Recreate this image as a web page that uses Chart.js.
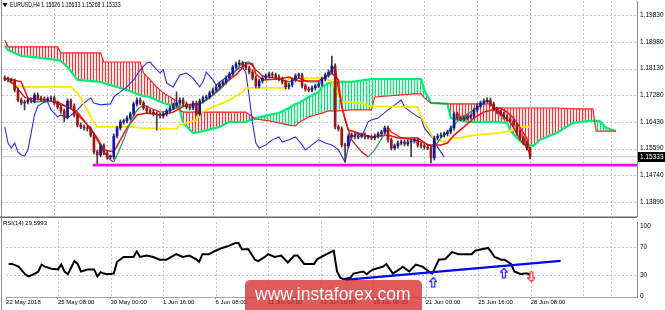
<!DOCTYPE html>
<html><head><meta charset="utf-8">
<script src="https://cdn.jsdelivr.net/npm/chart.js@4.4.1/dist/chart.umd.min.js"></script>
<style>
html,body{margin:0;padding:0;background:#fff;width:665px;height:310px;overflow:hidden}
canvas{position:absolute;left:0}
#c1{top:0}
#c2{top:216px}
</style></head><body>
<canvas id="c1" width="665" height="217"></canvas>
<canvas id="c2" width="665" height="94"></canvas>
<script>
// ---------- texts ----------
const symbolTitle = 'EURUSD,H4 1.15626 1.15633 1.15268 1.15333';
const rsiTitle = 'RSI(14) 29.5993';
const watermarkText = 'www.instaforex.com';
const lastPrice = 1.15333;
const supportLevel = 1.1507;
const supportStartIdx = 26.7;

// ---------- axes ----------
const priceTicks = [1.19830,1.18980,1.18130,1.17280,1.16430,1.15590,1.14740,1.13890];
const rsiTicks = [100,70,30,0];
const rsiLevels = [70,30];
const timeTickIdx = [-0.8,15,31,47,63,79,95,111,127,143,159];
const timeTickLabels = ['22 May 2018','25 May 08:00','30 May 00:00','1 Jun 16:00','6 Jun 08:00','11 Jun 00:00','13 Jun 16:00','18 Jun 08:00','21 Jun 00:00','25 Jun 16:00','28 Jun 08:00'];
const extraGridIdx = [175,183.5];

// ---------- candles (H4 bars, index 0..159) ----------
const candleOpen = [1.1783,1.1780,1.1777,1.1774,1.1745,1.1713,1.1704,1.1707,1.1713,1.1710,
1.1729,1.1720,1.1717,1.1713,1.1717,1.1720,1.1704,1.1691,1.1679,1.1660,
1.1710,1.1694,1.1666,1.1634,1.1628,1.1625,1.1622,1.1602,1.1549,1.1539,
1.1568,1.1545,1.1533,1.1533,1.1599,1.1625,1.1644,1.1647,1.1656,1.1669,
1.1701,1.1713,1.1704,1.1688,1.1679,1.1675,1.1669,1.1666,1.1663,1.1669,
1.1679,1.1688,1.1698,1.1704,1.1713,1.1701,1.1691,1.1688,1.1704,1.1669,
1.1710,1.1720,1.1723,1.1736,1.1745,1.1755,1.1764,1.1771,1.1783,1.1796,
1.1818,1.1828,1.1831,1.1824,1.1815,1.1802,1.1783,1.1758,1.1774,1.1783,
1.1790,1.1796,1.1793,1.1786,1.1780,1.1771,1.1755,1.1761,1.1777,1.1790,
1.1793,1.1758,1.1748,1.1745,1.1752,1.1758,1.1764,1.1780,1.1793,1.1802,
1.1821,1.1628,1.1622,1.1571,1.1568,1.1599,1.1602,1.1596,1.1599,1.1602,
1.1596,1.1596,1.1593,1.1599,1.1606,1.1612,1.1625,1.1587,1.1561,1.1568,
1.1577,1.1580,1.1574,1.1580,1.1583,1.1587,1.1571,1.1568,1.1564,1.1561,
1.1530,1.1593,1.1599,1.1602,1.1606,1.1612,1.1625,1.1669,1.1656,1.1653,
1.1656,1.1660,1.1663,1.1682,1.1694,1.1704,1.1710,1.1713,1.1701,1.1685,
1.1675,1.1669,1.1660,1.1653,1.1647,1.1634,1.1612,1.1593,1.1577,1.15626];
const candleHigh = [1.1790,1.1786,1.1783,1.1780,1.1752,1.1720,1.1713,1.1720,1.1720,1.1736,
1.1736,1.1726,1.1723,1.1723,1.1726,1.1726,1.1710,1.1698,1.1685,1.1717,
1.1717,1.1701,1.1672,1.1641,1.1634,1.1631,1.1628,1.1609,1.1555,1.1574,
1.1574,1.1552,1.1539,1.1606,1.1631,1.1650,1.1653,1.1663,1.1675,1.1707,
1.1720,1.1720,1.1710,1.1694,1.1685,1.1682,1.1675,1.1672,1.1675,1.1685,
1.1694,1.1704,1.1739,1.1720,1.1720,1.1707,1.1698,1.1710,1.1710,1.1717,
1.1726,1.1729,1.1742,1.1752,1.1761,1.1771,1.1777,1.1790,1.1802,1.1824,
1.1834,1.1840,1.1837,1.1831,1.1821,1.1809,1.1790,1.1780,1.1790,1.1796,
1.1802,1.1802,1.1799,1.1793,1.1786,1.1777,1.1767,1.1783,1.1796,1.1799,
1.1799,1.1764,1.1755,1.1758,1.1764,1.1771,1.1786,1.1799,1.1809,1.1853,
1.1828,1.1634,1.1628,1.1577,1.1606,1.1609,1.1609,1.1606,1.1609,1.1609,
1.1602,1.1602,1.1606,1.1612,1.1618,1.1631,1.1631,1.1593,1.1574,1.1583,
1.1587,1.1587,1.1587,1.1590,1.1593,1.1593,1.1577,1.1574,1.1571,1.1568,
1.1599,1.1606,1.1609,1.1612,1.1618,1.1631,1.1675,1.1675,1.1663,1.1663,
1.1666,1.1669,1.1688,1.1701,1.1710,1.1717,1.1720,1.1720,1.1707,1.1691,
1.1682,1.1675,1.1666,1.1660,1.1653,1.1641,1.1618,1.1599,1.1583,1.15633];
const candleLow = [1.1774,1.1771,1.1767,1.1739,1.1707,1.1698,1.1682,1.1701,1.1704,1.1704,
1.1713,1.1710,1.1707,1.1707,1.1710,1.1698,1.1685,1.1672,1.1644,1.1653,
1.1688,1.1660,1.1628,1.1622,1.1618,1.1615,1.1596,1.1542,1.1507,1.1533,
1.1539,1.1526,1.1526,1.1526,1.1593,1.1618,1.1637,1.1641,1.1650,1.1663,
1.1694,1.1698,1.1682,1.1672,1.1669,1.1663,1.1618,1.1656,1.1656,1.1663,
1.1672,1.1682,1.1691,1.1698,1.1694,1.1685,1.1682,1.1682,1.1663,1.1663,
1.1704,1.1713,1.1717,1.1729,1.1739,1.1748,1.1758,1.1764,1.1777,1.1790,
1.1812,1.1821,1.1818,1.1809,1.1796,1.1777,1.1752,1.1752,1.1767,1.1777,
1.1783,1.1786,1.1780,1.1774,1.1764,1.1748,1.1748,1.1755,1.1771,1.1783,
1.1752,1.1742,1.1739,1.1739,1.1745,1.1752,1.1758,1.1774,1.1786,1.1796,
1.1622,1.1615,1.1564,1.1517,1.1561,1.1593,1.1590,1.1590,1.1593,1.1590,
1.1590,1.1587,1.1587,1.1593,1.1599,1.1606,1.1580,1.1555,1.1555,1.1561,
1.1571,1.1568,1.1568,1.1533,1.1577,1.1564,1.1561,1.1558,1.1555,1.1514,
1.1523,1.1587,1.1593,1.1596,1.1599,1.1606,1.1618,1.1650,1.1647,1.1647,
1.1650,1.1653,1.1656,1.1675,1.1688,1.1698,1.1704,1.1694,1.1679,1.1669,
1.1663,1.1653,1.1647,1.1641,1.1628,1.1606,1.1587,1.1571,1.1555,1.15268];
const candleClose = [1.1780,1.1777,1.1774,1.1745,1.1713,1.1704,1.1707,1.1713,1.1710,1.1729,
1.1720,1.1717,1.1713,1.1717,1.1720,1.1704,1.1691,1.1679,1.1660,1.1710,
1.1694,1.1666,1.1634,1.1628,1.1625,1.1622,1.1602,1.1549,1.1539,1.1568,
1.1545,1.1533,1.1533,1.1599,1.1625,1.1644,1.1647,1.1656,1.1669,1.1701,
1.1713,1.1704,1.1688,1.1679,1.1675,1.1669,1.1666,1.1663,1.1669,1.1679,
1.1688,1.1698,1.1704,1.1713,1.1701,1.1691,1.1688,1.1704,1.1669,1.1710,
1.1720,1.1723,1.1736,1.1745,1.1755,1.1764,1.1771,1.1783,1.1796,1.1818,
1.1828,1.1831,1.1824,1.1815,1.1802,1.1783,1.1758,1.1774,1.1783,1.1790,
1.1796,1.1793,1.1786,1.1780,1.1771,1.1755,1.1761,1.1777,1.1790,1.1793,
1.1758,1.1748,1.1745,1.1752,1.1758,1.1764,1.1780,1.1793,1.1802,1.1821,
1.1628,1.1622,1.1571,1.1568,1.1599,1.1602,1.1596,1.1599,1.1602,1.1596,
1.1596,1.1593,1.1599,1.1606,1.1612,1.1625,1.1587,1.1561,1.1568,1.1577,
1.1580,1.1574,1.1580,1.1583,1.1587,1.1571,1.1568,1.1564,1.1561,1.1530,
1.1593,1.1599,1.1602,1.1606,1.1612,1.1625,1.1669,1.1656,1.1653,1.1656,
1.1660,1.1663,1.1682,1.1694,1.1704,1.1710,1.1713,1.1701,1.1685,1.1675,
1.1669,1.1660,1.1653,1.1647,1.1634,1.1612,1.1593,1.1577,1.15626,1.15333];

// ---------- Ichimoku ----------
const tenkanIdx = [0,5,7,12,16,19,22,25,28,30,33,35,37,40,43,47,51,55,59,61,64,67,70,73,75,76,78,83,86,89,95,97,99,101,102,104,107,111,116,119,125,128,132,134,136,139,142,145,150,152,154,156,158,159];
const tenkanVal = [1.1783,1.1771,1.1720,1.1713,1.1707,1.1691,1.1675,1.1634,1.1593,1.1555,1.1549,1.1587,1.1625,1.1666,1.1672,1.1666,1.1675,1.1698,1.1701,1.1713,1.1739,1.1771,1.1793,1.1828,1.1828,1.1796,1.1777,1.1780,1.1786,1.1774,1.1774,1.1786,1.1799,1.1777,1.1691,1.1618,1.1609,1.1596,1.1602,1.1593,1.1593,1.1571,1.1571,1.1577,1.1602,1.1628,1.1656,1.1675,1.1688,1.1675,1.1656,1.1625,1.1593,1.1549];
const kijunIdx = [0,2,3,5,20,22,25,27,28,38,41,52,53,58,59,63,68,72,73,85,86,97,99,101,102,108,110,125,126,128,130,134,135,138,139,142,150,154,155,159];
const kijunVal = [1.1783,1.1771,1.1761,1.1755,1.1755,1.1736,1.1682,1.1641,1.1628,1.1628,1.1625,1.1622,1.1634,1.1650,1.1672,1.1691,1.1713,1.1739,1.1752,1.1752,1.1783,1.1783,1.1771,1.1729,1.1707,1.1704,1.1694,1.1691,1.1660,1.1625,1.1587,1.1580,1.1593,1.1593,1.1596,1.1602,1.1609,1.1618,1.1628,1.1628];
const chikouIdx = [0,1,2,3,4,5,6,7,8,9,10,12,13,14,15,16,17,19,22,24,26,27,29,32,33,35,37,39,41,43,44,45,47,48,49,51,53,55,57,59,60,61,63,64,67,71,72,73,74,75,76,77,79,81,83,84,86,88,90,91,93,95,97,99,101,103,104,105,107,108,110,111,113,116,120,121,123,125,126,127,129,130,131,133];
const chikouVal = [1.1628,1.1577,1.1561,1.1577,1.1549,1.1539,1.1536,1.1555,1.1609,1.1666,1.1694,1.1707,1.1707,1.1682,1.1672,1.1660,1.1666,1.1656,1.1682,1.1704,1.1720,1.1704,1.1698,1.1701,1.1723,1.1739,1.1755,1.1777,1.1809,1.1831,1.1834,1.1821,1.1799,1.1809,1.1767,1.1755,1.1793,1.1799,1.1783,1.1755,1.1771,1.1802,1.1777,1.1761,1.1786,1.1815,1.1818,1.1799,1.1723,1.1641,1.1577,1.1561,1.1571,1.1587,1.1596,1.1580,1.1587,1.1596,1.1571,1.1555,1.1571,1.1587,1.1577,1.1571,1.1555,1.1517,1.1564,1.1596,1.1609,1.1596,1.1644,1.1650,1.1656,1.1682,1.1713,1.1691,1.1675,1.1660,1.1656,1.1625,1.1599,1.1587,1.1564,1.1533];
const cloudIdx = [0,1,5,11,16,17,19,22,29,30,37,41,42,44,46,48,52,53,54,57,59,65,68,73,76,80,83,86,88,89,92,95,96,98,101,105,111,112,124,126,127,129,134,135,140,147,148,152,153,155,157,160,162,167,172,177,178,179,180,182,185];
const spanAVal = [1.1885,1.1872,1.1853,1.1847,1.1840,1.1837,1.1818,1.1777,1.1771,1.1767,1.1745,1.1729,1.1726,1.1723,1.1713,1.1704,1.1691,1.1682,1.1641,1.1609,1.1612,1.1628,1.1644,1.1644,1.1656,1.1666,1.1672,1.1688,1.1701,1.1704,1.1723,1.1739,1.1755,1.1767,1.1771,1.1771,1.1780,1.1780,1.1780,1.1780,1.1745,1.1704,1.1701,1.1656,1.1644,1.1644,1.1644,1.1641,1.1618,1.1593,1.1574,1.1568,1.1587,1.1609,1.1641,1.1647,1.1647,1.1647,1.1647,1.1625,1.1615];
const spanBVal = [1.1904,1.1882,1.1882,1.1882,1.1882,1.1863,1.1863,1.1863,1.1863,1.1834,1.1834,1.1834,1.1799,1.1777,1.1755,1.1736,1.1710,1.1682,1.1675,1.1675,1.1675,1.1675,1.1675,1.1675,1.1653,1.1647,1.1641,1.1634,1.1631,1.1641,1.1660,1.1669,1.1672,1.1679,1.1679,1.1682,1.1682,1.1723,1.1733,1.1733,1.1720,1.1704,1.1701,1.1701,1.1701,1.1701,1.1688,1.1688,1.1688,1.1688,1.1688,1.1688,1.1688,1.1688,1.1685,1.1685,1.1685,1.1615,1.1615,1.1615,1.1615];
// ---------- colour-by-slope moving average ----------
const maIdx = [0,3,6,9,14,17,20,23,26,28,30,32,33,34,36,38,40,42,44,47,50,53,56,59,62,65,68,70,72,74,76,78,82,86,89,92,95,98,100,101,103,105,108,110,112,116,117,120,124,127,130,132,134,138,142,145,146,149,151,153,154,156,158,159];
const maVal = [1.1783,1.1761,1.1723,1.1707,1.1710,1.1698,1.1688,1.1656,1.1625,1.1587,1.1549,1.1523,1.1517,1.1539,1.1587,1.1644,1.1682,1.1698,1.1688,1.1675,1.1679,1.1694,1.1694,1.1701,1.1720,1.1745,1.1777,1.1809,1.1831,1.1834,1.1809,1.1790,1.1783,1.1771,1.1783,1.1771,1.1771,1.1796,1.1821,1.1745,1.1650,1.1587,1.1549,1.1533,1.1555,1.1625,1.1612,1.1593,1.1587,1.1577,1.1564,1.1593,1.1612,1.1656,1.1682,1.1704,1.1713,1.1682,1.1660,1.1644,1.1625,1.1587,1.1564,1.1539];

// ---------- RSI(14) ----------
const rsiIdx = [0,1,3,5,6,8,9,10,11,13,15,16,17,18,20,21,22,24,26,27,28,29,30,32,33,35,38,39,40,42,44,46,48,51,53,55,57,58,59,61,63,65,67,69,70,71,73,75,76,78,79,81,83,85,87,88,90,93,94,96,98,99,100,101,102,104,105,108,109,110,111,114,115,117,119,120,122,124,126,128,129,131,133,135,137,139,141,142,144,146,147,148,150,151,153,154,156,157,158,159];
const rsiVal = [46,46,42,31,28,32,35,45,42,39,38,45,35,31,50,46,35,38,38,28,34,32,31,32,49,56,56,64,56,58,56,52,52,60,56,58,53,49,60,60,65,69,72,76,76,67,67,52,50,56,60,56,58,48,58,58,46,46,53,58,63,65,35,26,24,26,32,35,31,35,38,42,46,32,38,42,35,45,42,35,32,52,53,63,60,60,60,65,67,69,63,56,52,52,46,35,31,32,32,29.6];
const trendIdx = [102.4,168.1];
const trendVal = [22.9,50.3];
const arrowUpIdx = [129.3,150.8];
const arrowUpVal = [19,32.5];
const arrowDnIdx = [159.2];
const arrowDnVal = [27.5];

// ---------- styling ----------
const X_MIN = -0.83, X_MAX = 191.36;
const FONT = "'Liberation Sans', Arial, sans-serif";
const GRID = '#c4c4c4';
const AXIS = '#8c8c8c';
const BULL = '#1414a8', BEAR = '#a81212', WICK = '#3c3c3c';

const C1 = document.getElementById('c1');
const C2 = document.getElementById('c2');
const xy = (idx, vals) => idx.map((x, k) => ({x, y: vals[k]}));

function stripe(line, back){
  const c = document.createElement('canvas'); c.width = 3; c.height = 1;
  const g = c.getContext('2d');
  g.fillStyle = back; g.fillRect(1,0,2,1);
  g.fillStyle = line; g.fillRect(0,0,1,1);
  return C1.getContext('2d').createPattern(c, 'repeat');
}
const redHatch = stripe('rgba(255,40,40,0.95)', 'rgba(255,150,150,0.22)');
const greenHatch = stripe('rgba(0,225,110,0.95)', 'rgba(60,255,150,0.18)');

function arrowImg(color, up){
  const c = document.createElement('canvas'); c.width = 8; c.height = 11;
  const g = c.getContext('2d');
  g.translate(0.5,0.5);
  if(!up){ g.translate(0,10); g.scale(1,-1); }
  g.beginPath();
  g.moveTo(3.5,0); g.lineTo(7,4); g.lineTo(5,4); g.lineTo(5,9.5); g.lineTo(2,9.5); g.lineTo(2,4); g.lineTo(0,4); g.closePath();
  g.fillStyle = '#fff'; g.fill();
  g.strokeStyle = color; g.lineWidth = 1.2; g.stroke();
  return c;
}

const bars = candleClose.map((_, i) => i);
const wickData = bars.map(i => ({x: i, y: [candleLow[i], candleHigh[i]]}));
const bodyData = bars.map(i => ({x: i, y: [candleOpen[i], candleClose[i]]}));
const bodyColors = bars.map(i => candleClose[i] >= candleOpen[i] ? BULL : BEAR);
const gridIdx = timeTickIdx.slice(1).concat(extraGridIdx);

function fixY(w){ return s => { s.width = w; s.paddingTop = 0; s.paddingBottom = 0; }; }
const common = {
  responsive: false, animation: false, devicePixelRatio: 1, events: [],
  plugins: {legend: {display: false}, tooltip: {enabled: false}},
  elements: {point: {radius: 0}, line: {tension: 0}}
};

function dottedGrid(chart, hVals){
  const {ctx, chartArea: a, scales: {x, y}} = chart;
  ctx.save();
  ctx.strokeStyle = GRID; ctx.lineWidth = 1; ctx.setLineDash([2,2]);
  ctx.beginPath();
  hVals.forEach(v => { const p = Math.round(y.getPixelForValue(v)) + 0.5; ctx.moveTo(a.left, p); ctx.lineTo(a.right, p); });
  gridIdx.forEach(v => { const p = Math.round(x.getPixelForValue(v)) + 0.5; ctx.moveTo(p, a.top); ctx.lineTo(p, a.bottom); });
  ctx.stroke();
  ctx.setLineDash([]);
  ctx.strokeStyle = AXIS;
  ctx.beginPath(); ctx.moveTo(1.5, 0); ctx.lineTo(1.5, chart.height); ctx.stroke();
  ctx.restore();
}

// ---------- price panel ----------
new Chart(C1, {
  type: 'line',
  data: {datasets: [
    {label:'Senkou A', data: xy(cloudIdx, spanAVal), borderColor:'#00ec78', borderWidth:2.2,
     fill:{target:1, above: greenHatch, below: redHatch}, order: 10},
    {label:'Senkou B', data: xy(cloudIdx, spanBVal), borderColor:'#ff2424', borderWidth:1.2, fill:false, order: 9},
    {label:'Bid', data:[{x:X_MIN,y:lastPrice},{x:X_MAX,y:lastPrice}], borderColor:'#c8c8c8', borderWidth:1, order: 12},
    {label:'Chikou', data: xy(chikouIdx, chikouVal), borderColor:'#2b2bff', borderWidth:1.1, order: 6},
    {label:'Kijun', data: xy(kijunIdx, kijunVal), borderColor:'#ffe800', borderWidth:1.8, order: 5},
    {label:'Tenkan', data: xy(tenkanIdx, tenkanVal), borderColor:'#ff1010', borderWidth:1.5, order: 4},
    {label:'MA', data: xy(maIdx, maVal), borderWidth:1.3, borderColor:'#ee1111',
     segment:{borderColor: c => c.p1.parsed.y >= c.p0.parsed.y ? '#2f9a5e' : '#ee1111'}, order: 3},
    {type:'bar', label:'wick', data: wickData, backgroundColor: WICK, barThickness:1, grouped:false, order: 2},
    {type:'bar', label:'body', data: bodyData, backgroundColor: bodyColors, barThickness:2, minBarLength:1, grouped:false, order: 1},
    {label:'Support', data:[{x:supportStartIdx,y:supportLevel},{x:X_MAX,y:supportLevel}], borderColor:'#ff00ff', borderWidth:2.6, order: 0}
  ]},
  options: Object.assign({}, common, {
    layout: {padding: {left: 2, right: 0, top: 1, bottom: 1}},
    scales: {
      x: {type:'linear', min: X_MIN, max: X_MAX, offset: false, grid: {offset: false}, display: false},
      y: {type:'linear', position:'right', min: 1.13455, max: 1.20274, beginAtZero: false,
        afterBuildTicks: s => { s.ticks = priceTicks.map(v => ({value: v})); },
        afterFit: fixY(28),
        grid: {display: false, drawTicks: false},
        border: {display: true, color: AXIS},
        ticks: {autoSkip: false, padding: 3, color:'#000', font:{family: FONT, size: 6.5},
          callback: v => Number(v).toFixed(5)}
      }
    }
  }),
  plugins: [{
    id: 'p1',
    beforeDatasetsDraw: c => dottedGrid(c, priceTicks),
    afterDraw(chart){
      const ctx = chart.ctx, y = chart.scales.y;
      ctx.save();
      const py = Math.round(y.getPixelForValue(lastPrice));
      ctx.fillStyle = '#000'; ctx.fillRect(638, py - 5, 27, 10);
      ctx.fillStyle = '#fff'; ctx.font = '6.5px ' + FONT; ctx.textBaseline = 'middle';
      ctx.fillText(lastPrice.toFixed(5), 640, py + 0.5);
      ctx.fillStyle = '#000';
      ctx.beginPath(); ctx.moveTo(2.5, 3); ctx.lineTo(7.5, 3); ctx.lineTo(5, 7); ctx.closePath(); ctx.fill();
      ctx.translate(10, 5.5); ctx.scale(0.74, 1);
      ctx.font = '7px ' + FONT;
      ctx.fillText(symbolTitle, 0, 0);
      ctx.restore();
    }
  }]
});

// ---------- RSI panel ----------
new Chart(C2, {
  type: 'line',
  data: {datasets: [
    {label:'RSI', data: xy(rsiIdx, rsiVal), borderColor:'#000', borderWidth:2, order: 3},
    {label:'trend', data: xy(trendIdx, trendVal), borderColor:'#0000ff', borderWidth:2.2, order: 2},
    {type:'scatter', label:'up', data: xy(arrowUpIdx, arrowUpVal), pointStyle: arrowImg('#1a1aff', true), pointRadius: 5, order: 1},
    {type:'scatter', label:'dn', data: xy(arrowDnIdx, arrowDnVal), pointStyle: arrowImg('#ff2020', false), pointRadius: 5, order: 1}
  ]},
  options: Object.assign({}, common, {
    layout: {padding: {left: 2, right: 0, top: 2, bottom: 0}},
    scales: {
      x: {type:'linear', min: X_MIN, max: X_MAX, offset: false,
        afterBuildTicks: s => { s.ticks = timeTickIdx.map(v => ({value: v})); },
        afterFit: s => { s.height = 13; s.paddingLeft = 0; s.paddingRight = 0; },
        grid: {display: true, drawOnChartArea: false, drawTicks: true, tickLength: 2, color: AXIS, offset: false},
        border: {display: true, color: '#a8a8a8'},
        ticks: {autoSkip: false, maxRotation: 0, align: 'start', padding: 0, color:'#000',
          font:{family: FONT, size: 6}, callback: (v, i) => timeTickLabels[i]}
      },
      y: {type:'linear', position:'right', min: -1.78, max: 106.44,
        afterBuildTicks: s => { s.ticks = rsiTicks.map(v => ({value: v})); },
        afterFit: fixY(28),
        grid: {display: false, drawTicks: false},
        border: {display: true, color: AXIS},
        ticks: {autoSkip: false, padding: 3, color:'#000', font:{family: FONT, size: 6.5}}
      }
    }
  }),
  plugins: [{
    id: 'p2',
    beforeDatasetsDraw(chart){
      dottedGrid(chart, rsiLevels);
      const ctx = chart.ctx;
      ctx.save(); ctx.strokeStyle = '#6a6a6a'; ctx.lineWidth = 1.5;
      ctx.beginPath(); ctx.moveTo(0, 1.3); ctx.lineTo(chart.chartArea.right, 1.3); ctx.stroke();
      ctx.restore();
    },
    afterDraw(chart){
      const ctx = chart.ctx;
      ctx.save();
      ctx.fillStyle = '#000'; ctx.font = '6px ' + FONT; ctx.textBaseline = 'middle';
      ctx.fillText(rsiTitle, 3, 7.5);
      ctx.fillStyle = 'rgba(214,40,40,0.76)';
      ctx.beginPath(); ctx.roundRect(245, 64, 177, 40, 5); ctx.fill();
      ctx.fillStyle = '#fff'; ctx.font = '17.5px ' + FONT; ctx.textBaseline = 'alphabetic';
      ctx.fillText(watermarkText, 255, 84);
      ctx.restore();
    }
  }]
});
</script>
</body></html>
